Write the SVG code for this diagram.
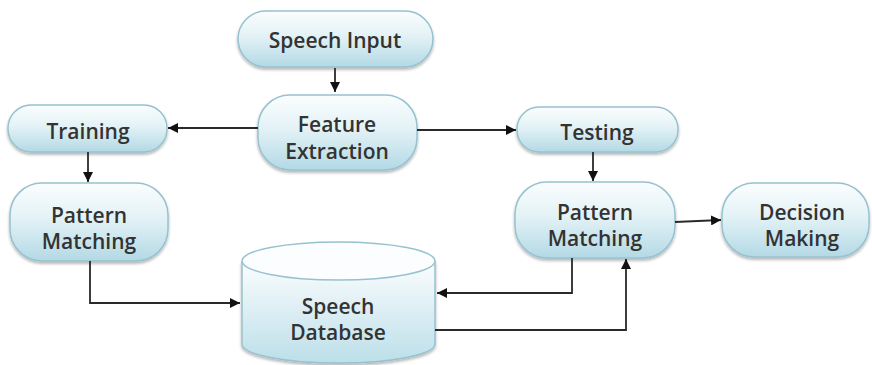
<svg xmlns="http://www.w3.org/2000/svg" width="872" height="365" viewBox="0 0 872 365">
<defs>
<linearGradient id="g" x1="0" y1="0" x2="0" y2="1">
<stop offset="0" stop-color="#fbfdfe"/>
<stop offset="0.45" stop-color="#e3f2f6"/>
<stop offset="1" stop-color="#b3d9e5"/>
</linearGradient>
<linearGradient id="gc" x1="0" y1="0" x2="0" y2="1">
<stop offset="0" stop-color="#fbfdfe"/>
<stop offset="1" stop-color="#bcdfe9"/>
</linearGradient>
<filter id="sh" x="-10%" y="-10%" width="120%" height="130%">
<feGaussianBlur in="SourceAlpha" stdDeviation="1.5"/>
<feOffset dx="0" dy="2" result="b"/>
<feComponentTransfer><feFuncA type="linear" slope="0.3"/></feComponentTransfer>
<feMerge><feMergeNode/><feMergeNode in="SourceGraphic"/></feMerge>
</filter>
<marker id="ah" viewBox="0 0 10 10" refX="10" refY="5" markerWidth="10" markerHeight="10" markerUnits="userSpaceOnUse" orient="auto">
<path d="M0,0 L10,5 L0,10 z" fill="#111"/>
</marker>
</defs>
<style>
.n{fill:url(#g);stroke:#96c2d0;stroke-width:1.5;filter:url(#sh)}
.t{font-family:"Open Sans","Liberation Sans",sans-serif;font-size:21px;font-weight:600;fill:#333;text-anchor:middle}
.c{fill:none;stroke:#2a2a2a;stroke-width:1.8;marker-end:url(#ah)}
</style>
<rect width="872" height="365" fill="#fff"/>
<g id="speech-input">
<rect class="n" x="238" y="11" width="195" height="56" rx="28"/>
<text class="t" x="335" y="48">Speech Input</text>
</g>
<g id="feature-extraction">
<rect class="n" x="258" y="95" width="159" height="75" rx="32"/>
<text class="t" x="337" y="132">Feature</text>
<text class="t" x="337" y="159">Extraction</text>
</g>
<g id="training">
<rect class="n" x="8" y="105" width="159" height="47" rx="23"/>
<text class="t" x="88" y="139">Training</text>
</g>
<g id="testing">
<rect class="n" x="517" y="107" width="161" height="45" rx="22"/>
<text class="t" x="597" y="140">Testing</text>
</g>
<g id="pattern-matching-left">
<rect class="n" x="10" y="183" width="158" height="78" rx="32"/>
<text class="t" x="89" y="223">Pattern</text>
<text class="t" x="89" y="249">Matching</text>
</g>
<g id="pattern-matching-right">
<rect class="n" x="515" y="182" width="160" height="76" rx="32"/>
<text class="t" x="595" y="220">Pattern</text>
<text class="t" x="595" y="246">Matching</text>
</g>
<g id="decision-making">
<rect class="n" x="722" y="183" width="147" height="74" rx="32"/>
<text class="t" x="802" y="220">Decision</text>
<text class="t" x="802" y="246">Making</text>
</g>
<g id="speech-database">
<path d="M242,261 L242,344 A96.5,19 0 0 0 435,344 L435,261" fill="url(#gc)" stroke="#96c2d0" stroke-width="1.5" filter="url(#sh)"/>
<ellipse cx="338.5" cy="261" rx="96.5" ry="19" fill="#fbfdfe" stroke="#96c2d0" stroke-width="1.5"/>
<text class="t" x="338" y="314">Speech</text>
<text class="t" x="338" y="340">Database</text>
</g>
<g id="connectors">
<path class="c" d="M335,68 L335,92"/>
<path class="c" d="M258,128 L168,128"/>
<path class="c" d="M417,130 L516,130"/>
<path class="c" d="M88,152 L88,182"/>
<path class="c" d="M593,152 L593,181"/>
<path class="c" d="M675,222 L721,220"/>
<path class="c" d="M90,261 L90,303 L240,303"/>
<path class="c" d="M572,258 L572,293 L437,293"/>
<path class="c" d="M435,330 L626,330 L626,259"/>
</g>
</svg>
